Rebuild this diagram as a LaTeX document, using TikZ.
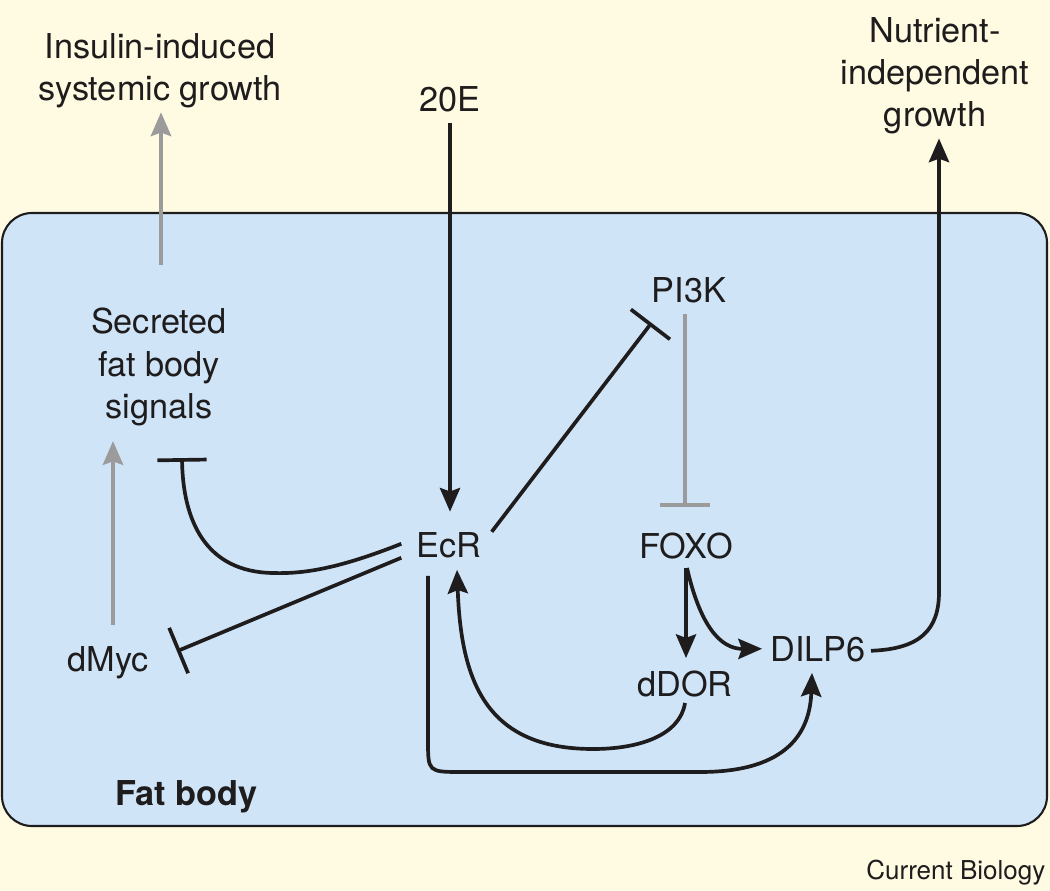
\documentclass[tikz,border=0pt]{standalone}
\usepackage{fontspec}
\setmainfont{TeX Gyre Heros}
\usetikzlibrary{arrows.meta,calc}
\definecolor{cream}{RGB}{254,251,226}
\definecolor{cellblue}{RGB}{208,228,248}
\definecolor{greyline}{RGB}{155,155,155}
\definecolor{ink}{RGB}{30,28,28}
\begin{document}
\begin{tikzpicture}[x=0.02cm,y=-0.02cm,
  lbl/.style={inner sep=0pt,text=ink,font=\fontsize{19.5}{24}\selectfont,align=center},
  blk/.style={draw=ink,line width=2.1pt},
  gry/.style={draw=greyline,line width=2.4pt},
  act/.style={-{Stealth[length=13.5pt,width=11.5pt,inset=2pt]}},
  inh/.style={-{Bar[width=28pt]}}]
\useasboundingbox (0,0) rectangle (1050,891);
\fill[cream] (0,0) rectangle (1050,891);
\draw[fill=cellblue,draw=ink,line width=1.2pt,rounded corners=0.6cm] (2,213) rectangle (1047,826);

% labels
\node[lbl,anchor=north] (insulin) at (160,33) {Insulin-induced\\systemic growth};
\node[lbl,anchor=north] (nutrient) at (935,17) {Nutrient-\\independent\\growth};
\node[lbl,anchor=base] (t20e) at (450,112) {20E};
\node[lbl,anchor=north] (secreted) at (159,308) {Secreted\\fat body\\signals};
\node[lbl,anchor=base] (ecr) at (449,557) {EcR};
\node[lbl,anchor=base] (pi3k) at (689,303) {PI3K};
\node[lbl,anchor=base] (foxo) at (686,558) {FOXO};
\node[lbl,anchor=base] (ddor) at (685,696) {dDOR};
\node[lbl,anchor=base] (dilp6) at (818,661) {DILP6};
\node[lbl,anchor=base] (dmyc) at (108,671) {dMyc};
\node[lbl,anchor=base west,font=\fontsize{19.5}{24}\selectfont\bfseries] (fatbody) at (115,805) {Fat body};
\node[lbl,anchor=base west,font=\fontsize{14.8}{18}\selectfont] (credit) at (866,879) {Current Biology};

% grey connectors
\draw[gry,act] ($(secreted.north)+(2,-43)$) -- ($(insulin.south)+(1,4)$);
\draw[gry,act] ($(dmyc.north)+(5,-21)$) -- ($(secreted.south)+(-46,15)$);
\draw[gry,inh] ($(pi3k.south)+(-4,10)$) -- ($(foxo.north)+(-1,-25)$);

% black connectors
\draw[blk,act] ($(t20e.south)+(0,10)$) -- ($(ecr.north)+(1,-20)$);
\draw[blk,inh] ($(ecr.east)+(10,-13)$) -- ($(pi3k.south west)+(0,19)$);
\draw[blk,inh] ($(ecr.west)+(-15,13)$) -- ($(dmyc.east)+(28,-11)$);
\draw[blk,inh] ($(ecr.west)+(-15,-1)$) .. controls (340,568) and (305,574) .. (273,573)
   .. controls (205,572) and (183,520) .. ($(secreted.south)+(23,32)$);
\draw[blk,act] ($(foxo.south)+(0,9)$) -- ($(ddor.north)+(1,-12)$);
\draw[blk,act] ($(foxo.south)+(1,9)$) .. controls (700,625) and (720,649) .. ($(dilp6.west)+(-8,0)$);
\draw[blk,act] ($(ddor.south)+(0,6)$) .. controls (680,735) and (640,749) .. (593,749)
   .. controls (485,749) and (461,680) .. ($(ecr.south)+(8,12)$);
\draw[blk,act] ($(ecr.south)+(-21,18)$) -- (428,740) .. controls (428,772) .. (462,772) -- (700,772)
   .. controls (790,772) and (810,730) .. ($(dilp6.south)+(-6,11)$);
\draw[blk,act] ($(dilp6.east)+(5,2)$) .. controls (920,649) and (939,630) .. (939,592)
   -- ($(nutrient.south)+(4,4)$);
\end{tikzpicture}
\end{document}
